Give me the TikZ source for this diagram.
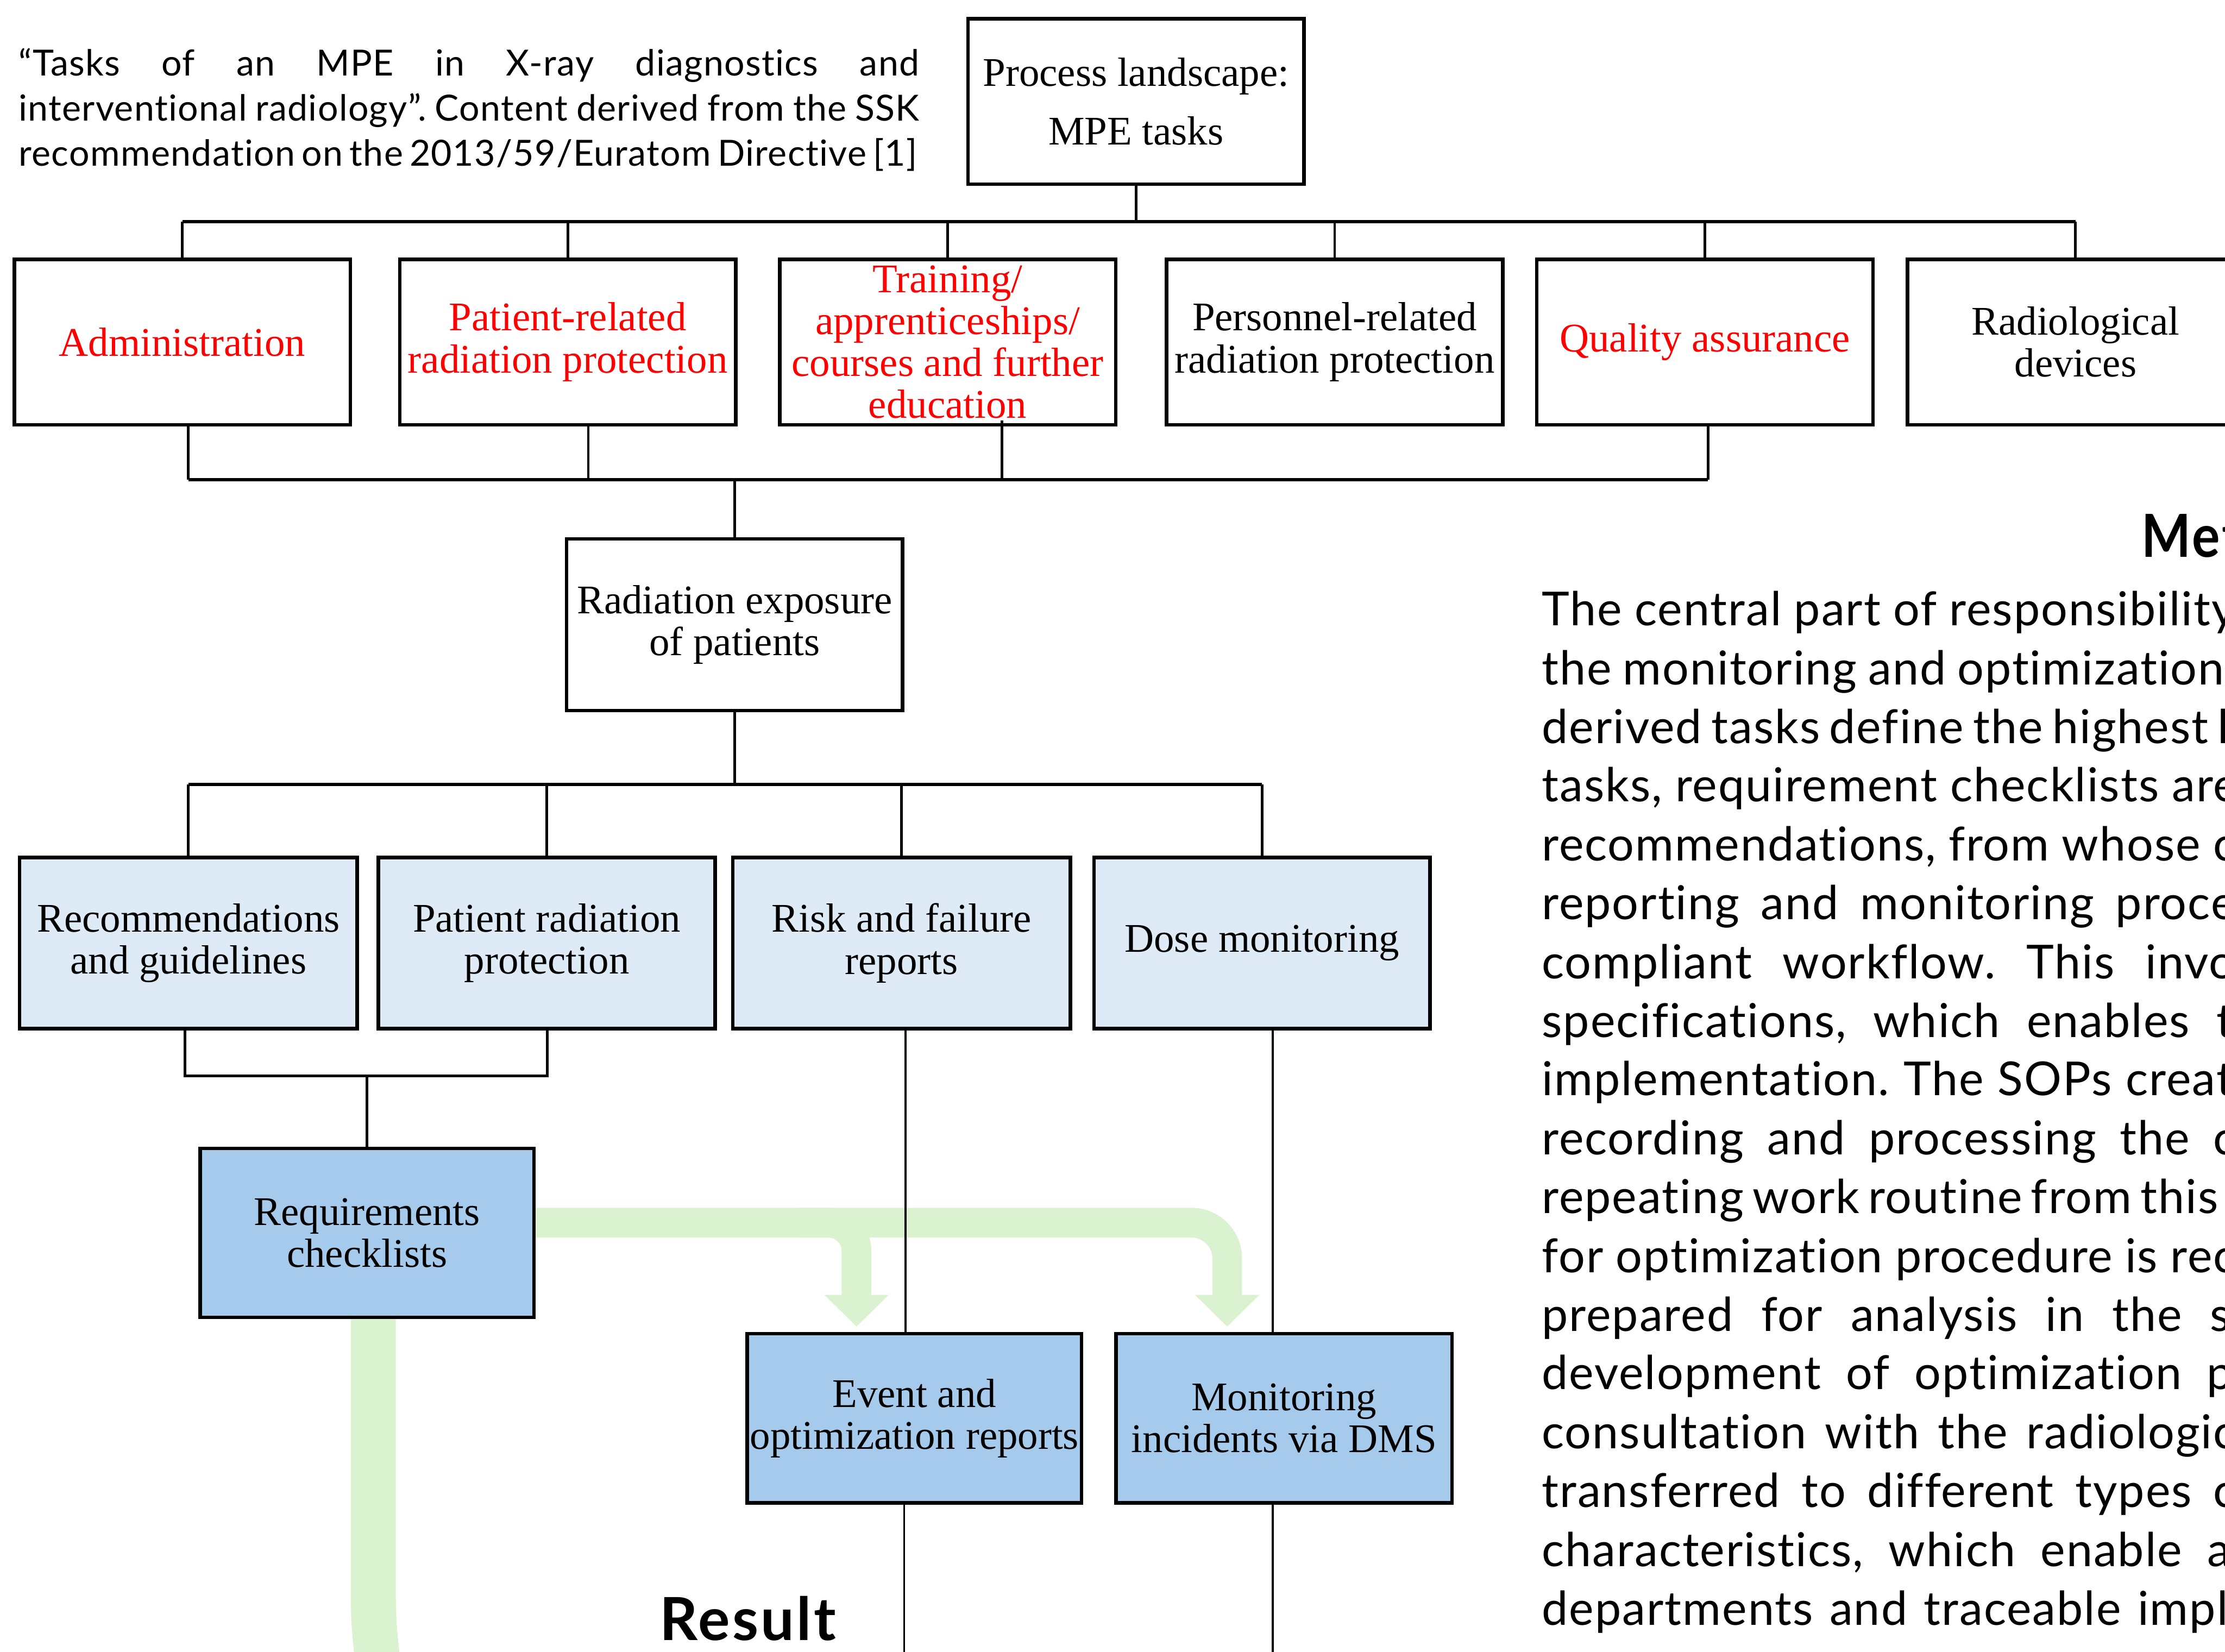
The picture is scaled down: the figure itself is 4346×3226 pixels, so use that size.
\documentclass[tikz,border=0pt]{standalone}
\usepackage{fontspec}
\usepackage{graphicx}
\setmainfont{Liberation Serif}
\newfontfamily\bodyfont[Ligatures=NoCommon, LetterSpace=2.3]{Lato}
\newfontfamily\notefont[Ligatures=NoCommon, LetterSpace=2]{Lato}
\newfontfamily\headfont[LetterSpace=4]{Lato}
\usepackage{tikz}
\usetikzlibrary{positioning,arrows.meta}
\pgfdeclarelayer{background}
\pgfsetlayers{background,main}
\definecolor{paleblue}{RGB}{222,235,247}
\definecolor{midblue}{RGB}{166,202,236}
\definecolor{palegreen}{RGB}{218,242,208}
\definecolor{taskred}{RGB}{255,0,0}
\frenchspacing
\tikzset{
  taskbox/.style={draw=black, line width=0.07cm, fill=white, minimum width=6.56cm,
    minimum height=3.23cm, inner sep=0pt, align=center,
    font=\fontsize{22.6}{23.3}\selectfont},
  subbox/.style={taskbox, fill=paleblue, minimum height=3.34cm},
  reqbox/.style={taskbox, fill=midblue, minimum height=3.30cm},
  link/.style={line width=0.05cm},
  thinlink/.style={line width=0.04cm},
  bus/.style={line width=0.065cm},
  flow/.style={draw=palegreen, line width=0.58cm, rounded corners=0.7cm,
    -{Triangle[width=1.22cm,length=0.62cm]}},
  bodytext/.style={anchor=base west, inner sep=0pt,
    font=\bodyfont\fontsize{26}{32.7}\selectfont},
  notetext/.style={anchor=base west, inner sep=0pt,
    font=\notefont\fontsize{20}{25}\selectfont},
  headtext/.style={anchor=base west, inner sep=0pt,
    font=\headfont\bfseries\fontsize{33}{38}\selectfont},
}
\begin{document}
\begin{tikzpicture}[x=0.01cm, y=-0.01cm]
\useasboundingbox (0,0) rectangle (4346,3226);
\clip (0,0) rectangle (4346,3226);

% top level
\node[taskbox, font=\fontsize{22.6}{32.7}\selectfont] (proc) at (2219,198) {Process landscape:\\MPE tasks};

\node[taskbox, text=taskred] (admin) at (356,668) {Administration};
\node[taskbox, text=taskred] (patrel) at (1109,668) {Patient-related\\radiation protection};
\node[taskbox, text=taskred] (train) at (1851,668) {Training/\\apprenticeships/\\courses and further\\education};
\node[taskbox] (persrel) at (2607,668) {Personnel-related\\radiation protection};
\node[taskbox, text=taskred] (qa) at (3330,668) {Quality assurance};
\node[taskbox] (radio) at (4054,668) {Radiological\\devices};

\node[taskbox, minimum height=3.35cm] (expo) at (1435,1220) {Radiation exposure\\of patients};

% patient exposure branches
\node[subbox, minimum width=6.59cm] (recom) at (368,1842) {Recommendations\\and guidelines};
\node[subbox, minimum width=6.57cm] (patrad) at (1068,1842) {Patient radiation\\protection};
\node[subbox, minimum width=6.59cm] (risk) at (1761,1842) {Risk and failure\\reports};
\node[subbox] (dose) at (2465,1842) {Dose monitoring};

\node[reqbox, minimum width=6.52cm] (reqs) at (717,2408) {Requirements\\checklists};
\node[reqbox, minimum width=6.53cm] (event) at (1786,2770) {Event and\\optimization reports};
\node[reqbox] (monit) at (2508,2770) {Monitoring\\incidents via DMS};

% tree lines
\draw[link] (proc.south) -- (proc.south |- 0,433);
\draw[bus] (admin.north |- 0,433) -- (radio.north |- 0,433);
\draw[link] (admin.north) -- (admin.north |- 0,433);
\draw[link] (patrel.north) -- (patrel.north |- 0,433);
\draw[link] (train.north) -- (train.north |- 0,433);
\draw[link] (persrel.north) -- (persrel.north |- 0,433);
\draw[link] (qa.north) -- (qa.north |- 0,433);
\draw[link] (radio.north) -- (radio.north |- 0,433);

\draw[link] ([xshift=0.12cm]admin.south) -- ++(0,104);
\draw[link] ([xshift=0.40cm]patrel.south) -- ++(0,104);
\draw[link] ([xshift=1.06cm,yshift=0.12cm]train.south) -- ++(0,116);
\draw[link] ([xshift=0.06cm]qa.south) -- ++(0,104);
\draw[bus] ([xshift=0.12cm]admin.south |- 0,937) -- ([xshift=0.06cm]qa.south |- 0,937);
\draw[link] (expo.north) -- ++(0,-112);

\draw[link] (expo.south) -- ++(0,141);
\draw[bus] (recom.north |- 0,1532) -- (dose.north |- 0,1532);
\draw[link] (recom.north) -- (recom.north |- 0,1532);
\draw[link] (patrad.north) -- (patrad.north |- 0,1532);
\draw[link] (risk.north) -- (risk.north |- 0,1532);
\draw[link] (dose.north) -- (dose.north |- 0,1532);

\draw[link] ([xshift=-0.07cm]recom.south) -- ++(0,89) -| ([xshift=0.01cm]patrad.south);
\draw[link] (reqs.north) -- ++(0,-138);

\draw[thinlink] (risk.south -| 1769,0) -- (event.north -| 1769,0);
\draw[thinlink] (event.south -| 1766,0) -- (1766,3240);
\draw[thinlink] (dose.south -| 2486,0) -- (monit.north -| 2486,0);
\draw[thinlink] (monit.south -| 2486,0) -- (2486,3240);

% green flows
\coordinate (tipA) at (1673,2591);
\coordinate (tipB) at (2397,2591);
\begin{pgfonlayer}{background}
  \fill[white] (0,0) rectangle (4346,3226);
  \draw[flow] (reqs.east |- 0,2388) -- (tipB |- 0,2388) -- (tipB);
  \draw[flow, rounded corners=0.55cm] (1560,2388) -- (tipA |- 0,2388) -- (tipA);
  \draw[draw=palegreen, line width=0.88cm] (reqs.south -| 729,0) -- (729,3060) .. controls (729,3160) .. (737,3240);
\end{pgfonlayer}

% texts
\node[notetext] (note1) at (36,148) {\makebox[17.58cm][s]{“Tasks of an MPE in X-ray diagnostics and}};
\node[notetext] (note2) at (36,236) {\makebox[17.58cm][s]{interventional radiology”. Content derived from the SSK}};
\node[notetext] (note3) at (36,324) {\makebox[17.52cm][s]{recommendation on the 2013/59/Euratom Directive [1]}};

\node[headtext] (methods) at (4182,1088) {\scalebox{0.88}[1]{Met}};
\node[headtext] (result) at (1288,3204) {Result};

\node[bodytext] (l1) at (3011,1222) {\makebox[13.54cm][s]{The central part of responsibility}};
\node[bodytext] (l2) at (3011,1337) {\makebox[13.32cm][s]{the monitoring and optimization}};
\node[bodytext] (l3) at (3011,1452) {\makebox[13.41cm][s]{derived tasks define the highest l}};
\node[bodytext] (l4) at (3011,1566) {\makebox[13.59cm][s]{tasks, requirement checklists are}};
\node[bodytext] (l5) at (3011,1681) {\makebox[13.54cm][s]{recommendations, from whose c}};
\node[bodytext] (l6) at (3011,1796) {\makebox[13.54cm][s]{reporting and monitoring proce}};
\node[bodytext] (l7) at (3011,1911) {\makebox[13.54cm][s]{compliant workflow. This invo}};
\node[bodytext] (l8) at (3011,2026) {\makebox[13.49cm][s]{specifications, which enables t}};
\node[bodytext] (l9) at (3011,2140) {\makebox[13.49cm][s]{implementation. The SOPs creat}};
\node[bodytext] (l10) at (3011,2255) {\makebox[13.54cm][s]{recording and processing the c}};
\node[bodytext] (l11) at (3011,2370) {\makebox[13.04cm][s]{repeating work routine from this}};
\node[bodytext] (l12) at (3011,2485) {\makebox[13.54cm][s]{for optimization procedure is rec}};
\node[bodytext] (l13) at (3011,2600) {\makebox[13.44cm][s]{prepared for analysis in the s}};
\node[bodytext] (l14) at (3011,2714) {\makebox[13.49cm][s]{development of optimization p}};
\node[bodytext] (l15) at (3011,2829) {\makebox[13.54cm][s]{consultation with the radiologic}};
\node[bodytext] (l16) at (3011,2944) {\makebox[13.54cm][s]{transferred to different types c}};
\node[bodytext] (l17) at (3011,3059) {\makebox[13.44cm][s]{characteristics, which enable a}};
\node[bodytext] (l18) at (3011,3174) {\makebox[13.39cm][s]{departments and traceable impl}};
\end{tikzpicture}
\end{document}
